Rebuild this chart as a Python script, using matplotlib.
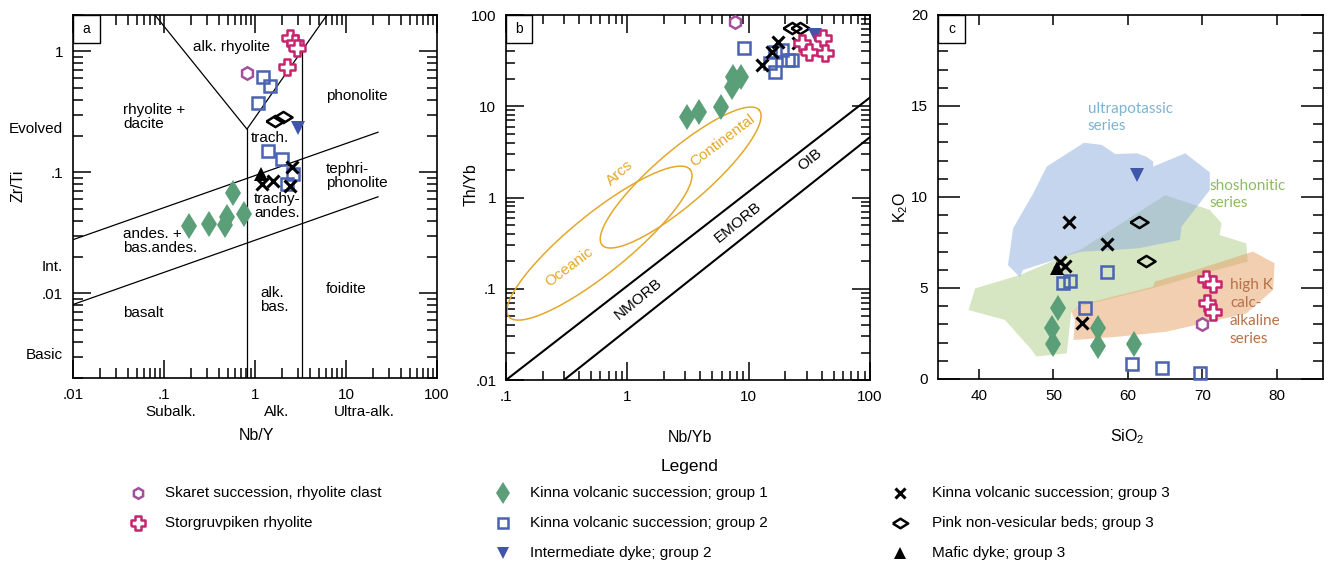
import matplotlib
matplotlib.use("Agg")
import matplotlib.pyplot as plt
import numpy as np
from matplotlib.patches import Polygon, Rectangle
from matplotlib.ticker import LogLocator, NullFormatter, MultipleLocator
from matplotlib.transforms import blended_transform_factory as blend

plt.rcParams['font.family'] = ['Liberation Sans', 'DejaVu Sans']
plt.rcParams['mathtext.default'] = 'regular'

# ---------------- data ----------------
# panel a: Nb/Y vs Zr/Ti
a_skaret_x = [0.81]
a_skaret_y = [0.66]
a_storg_x = [2.43, 2.75, 2.90, 2.23]
a_storg_y = [1.29, 1.17, 1.06, 0.74]
a_k1_x = [0.19, 0.31, 0.49, 0.47, 0.76, 0.57]
a_k1_y = [0.036, 0.0375, 0.043, 0.037, 0.045, 0.068]
a_k2_x = [1.23, 1.46, 1.09, 1.40, 1.96, 2.64, 2.23]
a_k2_y = [0.62, 0.52, 0.375, 0.150, 0.128, 0.097, 0.080]
a_dyke2_x = [2.99]
a_dyke2_y = [0.234]
a_k3_x = [1.19, 1.59, 2.43, 2.53]
a_k3_y = [0.080, 0.085, 0.077, 0.110]
a_pink_x = [1.66, 2.05]
a_pink_y = [0.265, 0.286]
a_mafic_x = [1.16]
a_mafic_y = [0.097]

# panel b: Nb/Yb vs Th/Yb
b_skaret_x = [7.7]
b_skaret_y = [84]
b_storg_x = [27.4, 31.1, 41.3, 42.7]
b_storg_y = [49, 39.6, 55.6, 38]
b_k1_x = [3.1, 3.9, 5.9, 7.3, 7.4, 8.6]
b_k1_y = [7.6, 8.7, 9.8, 16.2, 21, 21]
b_k2_x = [9.2, 15.0, 16.5, 18.7, 16.5, 21.2, 22.6]
b_k2_y = [43, 29.6, 39.6, 41.3, 23.9, 32.1, 32.1]
b_dyke2_x = [35.2]
b_dyke2_y = [60.4]
b_k3_x = [12.9, 15.5, 17.5, 25.5]
b_k3_y = [28.3, 39.3, 50.6, 49.3]
b_pink_x = [22.6, 26.5]
b_pink_y = [71.4, 71.4]

# panel c: SiO2 vs K2O
c_skaret_x = [69.9]
c_skaret_y = [3.0]
c_storg_x = [70.5, 71.4, 70.6, 71.4]
c_storg_y = [5.5, 5.2, 4.2, 3.7]
c_k1_x = [50.6, 49.8, 49.9, 56.0, 56.0, 60.8]
c_k1_y = [3.9, 2.8, 1.9, 2.8, 1.8, 1.9]
c_k2_x = [51.3, 52.2, 57.2, 54.2, 60.5, 64.6, 69.7]
c_k2_y = [5.3, 5.4, 5.9, 3.9, 0.8, 0.6, 0.35]
c_dyke2_x = [61.2]
c_dyke2_y = [11.2]
c_k3_x = [52.1, 57.2, 50.9, 51.5, 53.8]
c_k3_y = [8.6, 7.4, 6.4, 6.2, 3.1]
c_pink_x = [61.5, 62.5]
c_pink_y = [8.6, 6.5]
c_mafic_x = [50.5]
c_mafic_y = [6.1]

# field boundaries, panel a (Nb/Y, Zr/Ti)
a_field_lines = [
    ([0.0796, 0.817, 6.18], [2.0, 0.228, 2.0]),
    ([0.817, 0.817], [0.002, 0.228]),
    ([3.28, 3.28], [0.002, 1.01]),
    ([0.01, 22.5], [0.0278, 0.215]),
    ([0.01, 22.5], [0.0081, 0.0629]),
]
# MORB-OIB array, panel b
b_array_lines = [([0.1, 100], [0.01, 12.5]), ([0.3, 100], [0.01, 4.6])]
# arc ellipses in log10 space: centre, major and minor half-axis vectors
oceanic_arc = dict(c=(-0.23, -0.50), u=(0.747, 0.806), v=(0.153, -0.250))
continental_arc = dict(c=(0.439, 0.219), u=(0.647, 0.740), v=(0.144, -0.222))

# fields, panel c
ultrapotassic = [(54.1, 12.98), (56.5, 12.86), (58.3, 12.36), (61.2, 12.4), (62.5, 12.21),
                 (63.4, 11.94), (63.4, 11.67), (67.7, 12.4), (71.0, 11.35), (71.0, 10.38),
                 (67.2, 8.37), (67.0, 7.64), (61.4, 7.18), (58.0, 7.09), (53.6, 6.99),
                 (45.9, 5.99), (45.5, 5.59), (43.9, 6.26), (44.6, 8.28), (47.3, 10.2),
                 (49.1, 11.67)]
shoshonitic = [(38.6, 3.79), (39.5, 4.98), (45.5, 5.71), (51.3, 6.72), (53.6, 7.09),
               (65.0, 10.1), (71.0, 9.29), (72.6, 8.55), (72.3, 7.91), (75.9, 7.45),
               (76.1, 6.45), (72.0, 6.0), (63.5, 5.0), (53.6, 4.0), (52.4, 3.7),
               (51.8, 1.41), (47.7, 1.23), (47.1, 1.59), (43.5, 3.24)]
high_k = [(52.4, 3.7), (53.6, 4.07), (63.4, 5.07), (63.6, 5.35), (68.8, 5.95),
          (76.8, 7.0), (79.7, 6.36), (79.5, 4.89), (75.9, 3.6), (65.2, 2.6),
          (58.9, 2.33), (52.7, 2.14), (52.9, 3.24)]

legend_labels = ["Skaret succession, rhyolite clast", "Storgruvpiken rhyolite",
                 "Kinna volcanic succession; group 1", "Kinna volcanic succession; group 2",
                 "Intermediate dyke; group 2", "Kinna volcanic succession; group 3",
                 "Pink non-vesicular beds; group 3", "Mafic dyke; group 3"]

# ---------------- symbols ----------------
w = 0.4
cross = [(-1, -w), (-w, -w), (-w, -1), (w, -1), (w, -w), (1, -w), (1, w), (w, w),
         (w, 1), (-w, 1), (-w, w), (-1, w), (-1, -w)]
wide_diamond = [(-1, 0), (0, 0.62), (1, 0), (0, -0.62), (-1, 0)]

STYLE = {
    'skaret': dict(marker='h', ms=9, mfc='white', mec='#a2509b', mew=1.8),
    'storg': dict(marker=cross, ms=12, mfc='white', mec='#c8246e', mew=1.8),
    'k1': dict(marker='d', ms=13, mfc='#5a9f78', mec='#5a9f78', mew=0),
    'k2': dict(marker='s', ms=9, mfc='none', mec='#4a63b3', mew=1.8),
    'dyke2': dict(marker='v', ms=10, mfc='#3f56a8', mec='#3f56a8', mew=0),
    'k3': dict(marker='x', ms=8, mfc='none', mec='black', mew=2.2),
    'pink': dict(marker=wide_diamond, ms=13, mfc='none', mec='black', mew=1.8),
    'mafic': dict(marker='^', ms=10, mfc='black', mec='black', mew=0),
}


def pts(ax, x, y, key):
    ax.plot(x, y, linestyle='none', zorder=5, clip_on=False, **STYLE[key])


def panel_box(ax, letter, w, h):
    ax.add_patch(Rectangle((0, 1 - h), w, h, transform=ax.transAxes, fc='white',
                           ec='black', lw=1, zorder=6))
    ax.text(w / 2, 1 - h / 2, letter, transform=ax.transAxes, ha='center',
            va='center', fontsize=10, zorder=7)


def log_ticks(ax, major_len, minor_len):
    for axis in (ax.xaxis, ax.yaxis):
        axis.set_minor_locator(LogLocator(base=10, subs=np.arange(2, 10), numticks=30))
        axis.set_minor_formatter(NullFormatter())
    ax.tick_params(which='both', direction='in', top=True, right=True, width=1.1,
                   labelsize=11, pad=7)
    ax.tick_params(which='major', length=major_len)
    ax.tick_params(which='minor', length=minor_len)


fig = plt.figure(figsize=(13.31, 5.67), dpi=100)

# ---------------- panel a ----------------
ax = fig.add_axes([0.0548, 0.3333, 0.2735, 0.6402])
ax.set_xscale('log')
ax.set_yscale('log')
ax.set_xlim(0.01, 100)
ax.set_ylim(0.002, 2)
ax.set_xticks([0.01, 0.1, 1, 10, 100], labels=['.01', '.1', '1', '10', '100'])
ax.set_yticks([0.01, 0.1, 1], labels=['.01', '.1', '1'])
log_ticks(ax, 13, 7)
for s in ax.spines.values():
    s.set_linewidth(1.2)
for lx, ly in a_field_lines:
    ax.plot(lx, ly, color='black', lw=0.9, zorder=2)

fs = 11
ax.text(0.558, 1.08, 'alk. rhyolite', ha='center', va='center', fontsize=fs)
ax.text(0.0354, 0.286, 'rhyolite +\ndacite', va='center', fontsize=fs, linespacing=1.0)
ax.text(6.03, 0.426, 'phonolite', va='center', fontsize=fs)
ax.text(0.904, 0.192, 'trach.', va='center', fontsize=fs)
ax.text(6.03, 0.0936, 'tephri-\nphonolite', va='center', fontsize=fs, linespacing=1.0)
ax.text(0.975, 0.053, 'trachy-\nandes.', va='center', fontsize=fs, linespacing=1.0)
ax.text(0.0354, 0.0273, 'andes. +\nbas.andes.', va='center', fontsize=fs, linespacing=1.0)
ax.text(1.135, 0.00875, 'alk.\nbas.', va='center', fontsize=fs, linespacing=1.0)
ax.text(6.03, 0.0108, 'foidite', va='center', fontsize=fs)
ax.text(0.0354, 0.00685, 'basalt', va='center', fontsize=fs)

ty = blend(ax.transAxes, ax.transData)
for yv, lab in [(0.228, 'Evolved'), (0.0164, 'Int.'), (0.0031, 'Basic')]:
    ax.text(-0.027, yv, lab, transform=ty, ha='right', va='center', fontsize=fs)
tx = blend(ax.transData, ax.transAxes)
for xv, lab in [(0.119, 'Subalk.'), (1.75, 'Alk.'), (15.8, 'Ultra-alk.')]:
    ax.text(xv, -0.094, lab, transform=tx, ha='center', va='center', fontsize=fs)
ax.set_xlabel('Nb/Y', fontsize=11.5)
ax.xaxis.set_label_coords(0.505, -0.138)
ax.set_ylabel('Zr/Ti', fontsize=11.5)
ax.yaxis.set_label_coords(-0.129, 0.53)

pts(ax, a_k1_x, a_k1_y, 'k1')
pts(ax, a_k2_x, a_k2_y, 'k2')
pts(ax, a_skaret_x, a_skaret_y, 'skaret')
pts(ax, a_storg_x, a_storg_y, 'storg')
pts(ax, a_pink_x, a_pink_y, 'pink')
pts(ax, a_dyke2_x, a_dyke2_y, 'dyke2')
pts(ax, a_k3_x, a_k3_y, 'k3')
pts(ax, a_mafic_x, a_mafic_y, 'mafic')
panel_box(ax, 'a', 0.074, 0.077)

# ---------------- panel b ----------------
bx = fig.add_axes([0.3802, 0.3298, 0.2735, 0.6437])
bx.set_xscale('log')
bx.set_yscale('log')
bx.set_xlim(0.1, 100)
bx.set_ylim(0.01, 100)
bx.set_xticks([0.1, 1, 10, 100], labels=['.1', '1', '10', '100'])
bx.set_yticks([0.01, 0.1, 1, 10, 100], labels=['.01', '.1', '1', '10', '100'])
log_ticks(bx, 13, 6.5)
for s in bx.spines.values():
    s.set_linewidth(1.2)
for lx, ly in b_array_lines:
    bx.plot(lx, ly, color='black', lw=1.5, zorder=2)

t = np.linspace(0, 2 * np.pi, 300)
for e in (oceanic_arc, continental_arc):
    ex = e['c'][0] + e['u'][0] * np.cos(t) + e['v'][0] * np.sin(t)
    ey = e['c'][1] + e['u'][1] * np.cos(t) + e['v'][1] * np.sin(t)
    bx.plot(10 ** ex, 10 ** ey, color='#e3a82b', lw=1.1, zorder=2)

arc_c = '#e3a82b'
bx.text(0.330, 0.173, 'Oceanic', color=arc_c, fontsize=11, rotation=37,
        ha='center', va='center', rotation_mode='anchor')
bx.text(0.871, 1.85, 'Arcs', color=arc_c, fontsize=11, rotation=41,
        ha='center', va='center', rotation_mode='anchor')
bx.text(6.04, 4.16, 'Continental', color=arc_c, fontsize=11, rotation=37,
        ha='center', va='center', rotation_mode='anchor')
bx.text(1.22, 0.0772, 'NMORB', fontsize=11, rotation=39, ha='center', va='center',
        rotation_mode='anchor')
bx.text(8.18, 0.539, 'EMORB', fontsize=11, rotation=39, ha='center', va='center',
        rotation_mode='anchor')
bx.text(32.1, 2.58, 'OIB', fontsize=11, rotation=39, ha='center', va='center',
        rotation_mode='anchor')
bx.set_xlabel('Nb/Yb', fontsize=11.5)
bx.xaxis.set_label_coords(0.505, -0.136)
bx.set_ylabel('Th/Yb', fontsize=11.5)
bx.yaxis.set_label_coords(-0.074, 0.534)

pts(bx, b_k1_x, b_k1_y, 'k1')
pts(bx, b_skaret_x, b_skaret_y, 'skaret')
pts(bx, b_k2_x, b_k2_y, 'k2')
pts(bx, b_k3_x, b_k3_y, 'k3')
pts(bx, b_pink_x, b_pink_y, 'pink')
pts(bx, b_dyke2_x, b_dyke2_y, 'dyke2')
pts(bx, b_storg_x, b_storg_y, 'storg')
panel_box(bx, 'b', 0.071, 0.077)

# ---------------- panel c ----------------
cx = fig.add_axes([0.7047, 0.3316, 0.2893, 0.6420])
cx.set_xlim(34.5, 86.2)
cx.set_ylim(0, 20)
cx.set_xticks([40, 50, 60, 70, 80])
cx.set_yticks([0, 5, 10, 15, 20])
cx.yaxis.set_minor_locator(MultipleLocator(1))
cx.tick_params(which='both', direction='in', top=True, right=True, width=1.1,
               labelsize=11, pad=7)
cx.tick_params(axis='y', which='major', length=16)
cx.tick_params(axis='y', which='minor', length=7)
cx.tick_params(axis='x', which='major', length=7)
for s in cx.spines.values():
    s.set_linewidth(1.2)

cx.add_patch(Polygon(shoshonitic, closed=True, fc='#afcd87', ec='none', alpha=0.5, zorder=1))
cx.add_patch(Polygon(ultrapotassic, closed=True, fc='#8dadde', ec='none', alpha=0.5, zorder=1))
cx.add_patch(Polygon(high_k, closed=True, fc='#e7a165', ec='none', alpha=0.5, zorder=1))

lab_font = ['Lato', 'DejaVu Sans']
cx.text(54.6, 14.37, 'ultrapotassic\nseries', color='#7fb3cf', fontsize=11,
        va='center', linespacing=1.35, family=lab_font)
cx.text(70.9, 10.14, 'shoshonitic\nseries', color='#8cba5e', fontsize=11,
        va='center', linespacing=1.35, family=lab_font)
cx.text(73.7, 3.68, 'high K\ncalc-\nalkaline\nseries', color='#b5714a', fontsize=11,
        va='center', linespacing=1.35, family=lab_font)
cx.set_xlabel('SiO$_2$', fontsize=11.5)
cx.xaxis.set_label_coords(0.492, -0.132)
cx.set_ylabel('K$_2$O', fontsize=11.5)
cx.yaxis.set_label_coords(-0.072, 0.47)

pts(cx, c_k1_x, c_k1_y, 'k1')
pts(cx, c_k2_x, c_k2_y, 'k2')
pts(cx, c_skaret_x, c_skaret_y, 'skaret')
pts(cx, c_storg_x, c_storg_y, 'storg')
pts(cx, c_pink_x, c_pink_y, 'pink')
pts(cx, c_k3_x, c_k3_y, 'k3')
pts(cx, c_mafic_x, c_mafic_y, 'mafic')
pts(cx, c_dyke2_x, c_dyke2_y, 'dyke2')
panel_box(cx, 'c', 0.070, 0.077)

# ---------------- legend ----------------
lax = fig.add_axes([0, 0, 1, 1], zorder=-1)
lax.set_xlim(0, 1331)
lax.set_ylim(567, 0)
lax.axis('off')
lax.text(690, 467, 'Legend', ha='center', va='center', fontsize=12.5)
mark_x = [138, 503, 900]
text_x = [165, 530, 932]
row_y = [493, 523, 553]
slots = [(0, 0), (0, 1), (1, 0), (1, 1), (1, 2), (2, 0), (2, 1), (2, 2)]
keys = ['skaret', 'storg', 'k1', 'k2', 'dyke2', 'k3', 'pink', 'mafic']
for (col, row), key, lab in zip(slots, keys, legend_labels):
    st = dict(STYLE[key])
    st['ms'] = st['ms'] * 0.85
    lax.plot([mark_x[col]], [row_y[row]], linestyle='none', **st)
    lax.text(text_x[col], row_y[row], lab, va='center', fontsize=11)

fig.savefig('out.png', dpi=100)
